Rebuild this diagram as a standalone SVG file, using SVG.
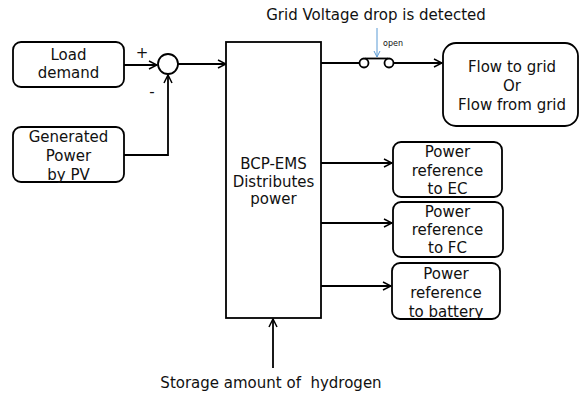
<svg xmlns="http://www.w3.org/2000/svg" width="587" height="394" viewBox="0 0 587 394">
<defs>
<marker id="arr" markerWidth="10" markerHeight="10" refX="9" refY="5" orient="auto" markerUnits="userSpaceOnUse">
<polyline points="1,1 9,5 1,9" fill="none" stroke="#000" stroke-width="1.5"/>
</marker>
<marker id="arrb" markerWidth="8" markerHeight="8" refX="7" refY="4" orient="auto" markerUnits="userSpaceOnUse">
<polyline points="1,1 7,4 1,7" fill="none" stroke="#5b9bd5" stroke-width="1"/>
</marker>
</defs>
<style>
text{font-family:"DejaVu Sans",Verdana,sans-serif;font-size:15px;fill:#111;text-anchor:middle}
.box{fill:#fff;stroke:#000;stroke-width:1.8}
.ln{fill:none;stroke:#000;stroke-width:1.8}
.st{text-anchor:start}
</style>
<g id="connectors">
<line class="ln" x1="124" y1="65" x2="157" y2="65" marker-end="url(#arr)"/>
<polyline class="ln" points="124,155 168,155 168,75" marker-end="url(#arr)"/>
<line class="ln" x1="178" y1="64" x2="226" y2="64" marker-end="url(#arr)"/>
<line class="ln" x1="321" y1="63" x2="359" y2="63"/>
<line class="ln" x1="394" y1="63" x2="442" y2="63" marker-end="url(#arr)"/>
<line class="ln" x1="321" y1="163" x2="392" y2="163" marker-end="url(#arr)"/>
<line class="ln" x1="321" y1="223" x2="392" y2="223" marker-end="url(#arr)"/>
<line class="ln" x1="321" y1="286" x2="391" y2="286" marker-end="url(#arr)"/>
<line class="ln" x1="273" y1="368" x2="273" y2="319" marker-end="url(#arr)"/>
<line x1="377" y1="28" x2="377" y2="57" stroke="#5b9bd5" stroke-width="1" marker-end="url(#arrb)"/>
</g>
<g id="switch">
<line class="ln" x1="365" y1="58.5" x2="388" y2="58.5"/>
<circle cx="364" cy="63" r="4.5" fill="#fff" stroke="#000" stroke-width="1.8"/>
<circle cx="389" cy="63" r="4.5" fill="#fff" stroke="#000" stroke-width="1.8"/>
<text x="383" y="46" class="st" style="font-size:8px">open</text>
</g>
<g id="title"><text x="376" y="20">Grid Voltage drop is detected</text></g>
<g id="load">
<rect class="box" x="13" y="42" width="111" height="45" rx="8"/>
<text x="68.5" y="60">Load</text>
<text x="68.5" y="78">demand</text>
</g>
<g id="pv">
<rect class="box" x="13" y="127" width="111" height="55" rx="8"/>
<text x="68.5" y="142">Generated</text>
<text x="68.5" y="161">Power</text>
<text x="68.5" y="180">by PV</text>
</g>
<g id="sum">
<circle cx="168" cy="64" r="10" fill="#fff" stroke="#000" stroke-width="1.8"/>
<text x="142" y="58">+</text>
<text x="152" y="97">-</text>
</g>
<g id="bcp">
<rect class="box" x="226" y="42" width="95" height="276"/>
<text x="273.5" y="169">BCP-EMS</text>
<text x="273.5" y="187">Distributes</text>
<text x="273.5" y="204">power</text>
</g>
<g id="grid">
<rect class="box" x="443" y="43" width="135" height="83" rx="13"/>
<text x="512" y="72">Flow to grid</text>
<text x="512" y="91">Or</text>
<text x="512" y="110">Flow from grid</text>
</g>
<g id="ec">
<rect class="box" x="393" y="142" width="109" height="55" rx="8"/>
<text x="447.5" y="157">Power</text>
<text x="447.5" y="176">reference</text>
<text x="447.5" y="194">to EC</text>
</g>
<g id="fc">
<rect class="box" x="393" y="202" width="110" height="55" rx="8"/>
<text x="447.5" y="217">Power</text>
<text x="447.5" y="235">reference</text>
<text x="447.5" y="253">to FC</text>
</g>
<g id="battery">
<rect class="box" x="392" y="263" width="108" height="56" rx="8"/>
<text x="446" y="279">Power</text>
<text x="446" y="298">reference</text>
<text x="446" y="317">to battery</text>
</g>
<g id="hydrogen"><text x="271" y="388" xml:space="preserve">Storage amount of  hydrogen</text></g>
</svg>
